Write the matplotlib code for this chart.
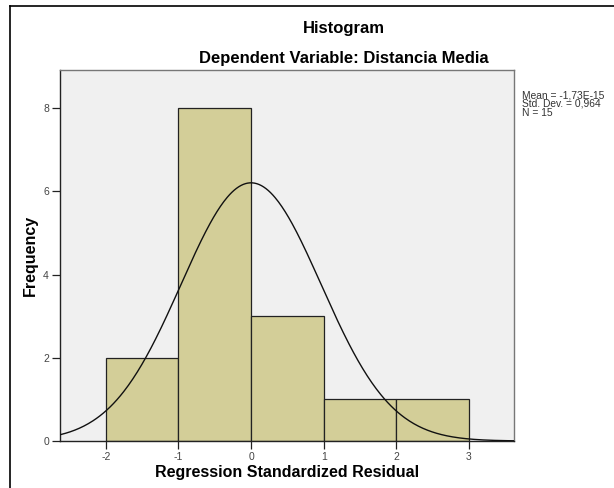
import matplotlib.pyplot as plt
import numpy as np

plt.rcParams['font.family'] = ['Liberation Sans', 'DejaVu Sans']
plt.rcParams['axes.unicode_minus'] = False

# histogram of regression standardized residuals
bin_edges = [-2, -1, 0, 1, 2, 3]
counts = [2, 8, 3, 1, 1]
mean = -1.73e-15
std = 0.964
n = 15
x_ticks = [-2, -1, 0, 1, 2, 3]
y_ticks = [0, 2, 4, 6, 8]
stats_lines = ['Mean = -1,73E-15', 'Std. Dev. = 0,964', 'N = 15']

fig = plt.figure(figsize=(6.14, 4.88), dpi=100)
W, H = 614, 488
ax = fig.add_axes([60 / W, 1 - 441 / H, (514 - 60) / W, (441 - 70) / H])
ax.set_facecolor('#f0f0f0')

widths = np.diff(bin_edges)
ax.bar(bin_edges[:-1], counts, width=widths, align='edge',
       color='#d3ce98', edgecolor='#222222', linewidth=0.9, zorder=2)

xs = np.linspace(-2.63, 3.62, 400)
pdf = n * 1.0 / (std * np.sqrt(2 * np.pi)) * np.exp(-0.5 * ((xs - mean) / std) ** 2)
ax.plot(xs, pdf, color='#111111', linewidth=1.0, zorder=3)

ax.set_xlim(-2.63, 3.62)
ax.set_ylim(0, 8.92)
ax.set_xticks(x_ticks)
ax.set_yticks(y_ticks)
ax.tick_params(labelsize=7.5, colors='#222222', labelcolor='#444444', length=6, width=0.9, pad=2)
for s in ax.spines.values():
    s.set_color('#777777')
    s.set_linewidth(1.0)
ax.spines['left'].set_color('#222222')
ax.spines['bottom'].set_color('#222222')

ax.set_xlabel('Regression Standardized Residual', fontsize=11.5, fontweight='bold')
ax.xaxis.set_label_coords(0.5, -(473 - 441) / (441 - 70), transform=ax.transAxes)
ax.xaxis.label.set_va('center')
ax.set_ylabel('Frequency', fontsize=11.5, fontweight='bold')
ax.yaxis.set_label_coords(-(60 - 30) / (514 - 60), 0.5)
ax.yaxis.label.set_va('center')

fig.text(344 / W, 1 - 28 / H, 'Histogram', ha='center', va='center', fontsize=12, fontweight='bold')
fig.text(344 / W, 1 - 58 / H, 'Dependent Variable: Distancia Media', ha='center', va='center',
         fontsize=12, fontweight='bold')
for i, line in enumerate(stats_lines):
    fig.text(522 / W, 1 - (95 + 9 * i) / H, line, ha='left', va='center',
             fontsize=7.4, color='#333333')

# outer frame (left and top edges)
fig.add_artist(plt.Line2D([10 / W, 10 / W], [0, 1 - 6 / H], color='black', linewidth=1.2,
                          transform=fig.transFigure))
fig.add_artist(plt.Line2D([10 / W, 1], [1 - 6 / H, 1 - 6 / H], color='black', linewidth=1.2,
                          transform=fig.transFigure))

fig.savefig('out.png', dpi=100)
